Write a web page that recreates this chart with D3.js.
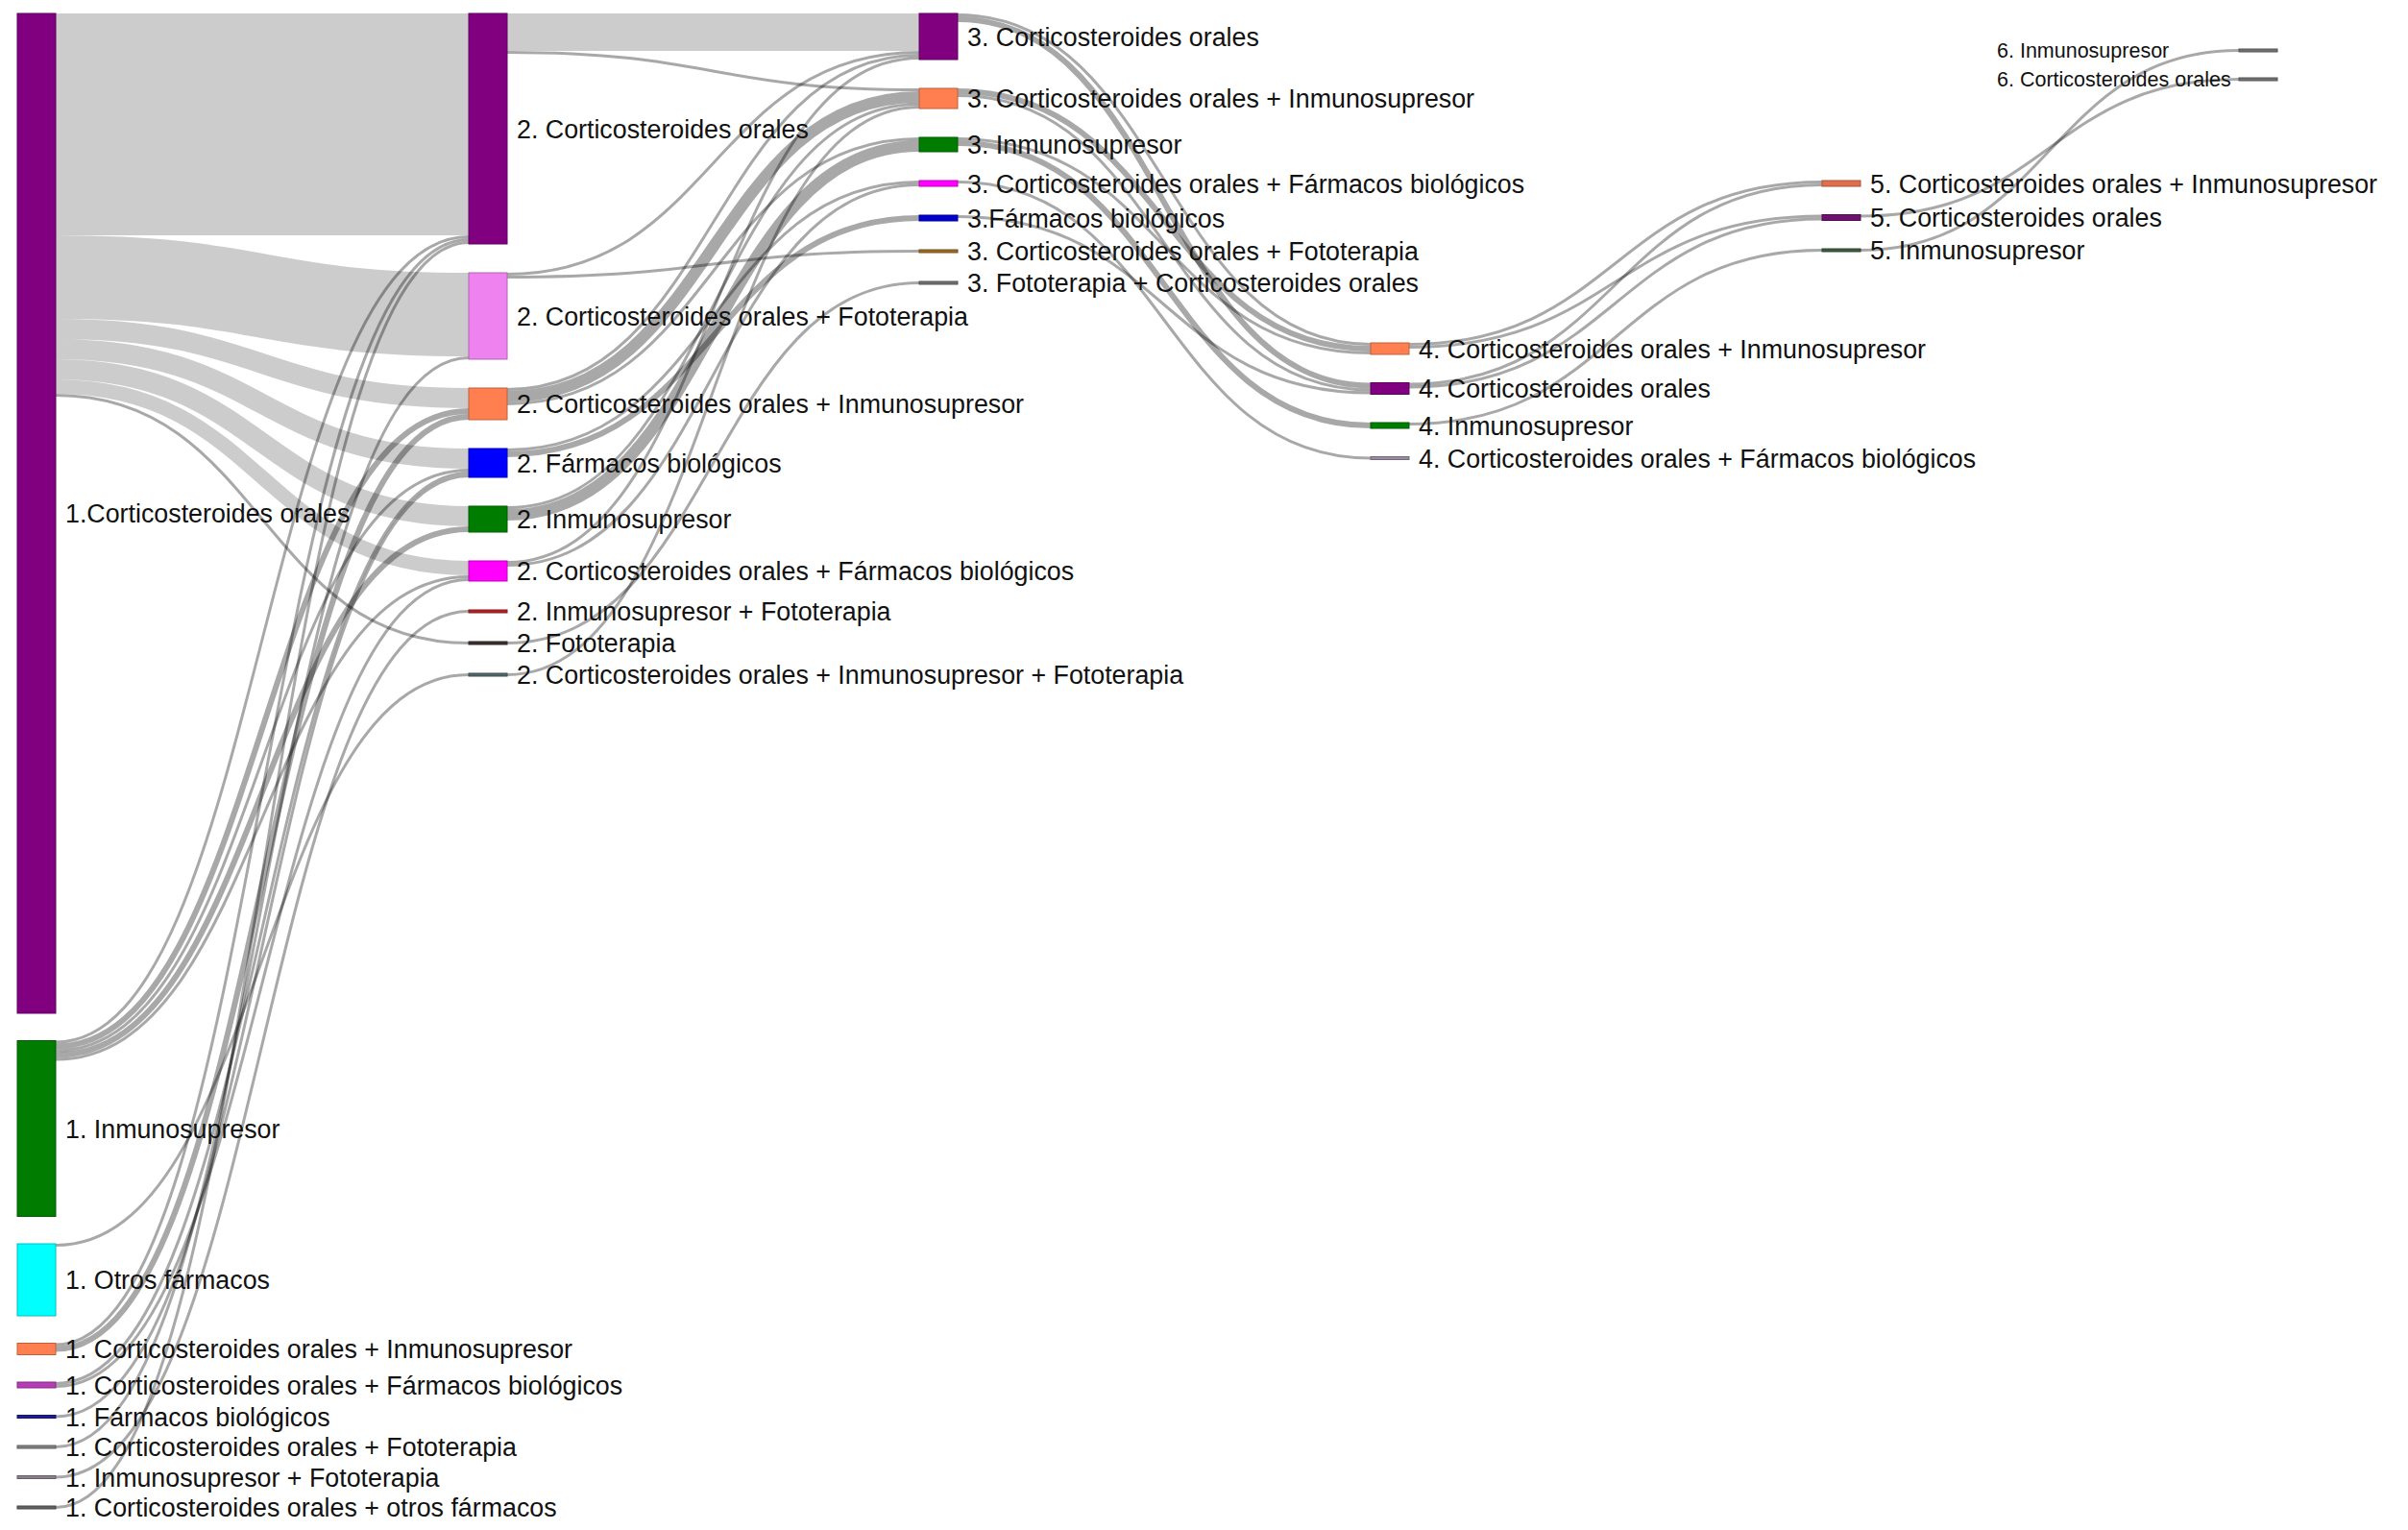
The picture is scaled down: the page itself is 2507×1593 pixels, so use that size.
<!DOCTYPE html>
<html>
<head>
<meta charset="utf-8">
<script src="https://cdn.jsdelivr.net/npm/d3@7"></script>
<style>
body { margin: 0; background: #fff; }
text { font-family: "Liberation Sans", Arial, Helvetica, sans-serif; fill: #111; }
</style>
</head>
<body>
<script>
var width = 2507, height = 1593;

// treatment lines, one set of arrays per step
var step1Labels = ["1.Corticosteroides orales", "1. Inmunosupresor", "1. Otros fármacos",
    "1. Corticosteroides orales + Inmunosupresor", "1. Corticosteroides orales + Fármacos biológicos",
    "1. Fármacos biológicos", "1. Corticosteroides orales + Fototerapia",
    "1. Inmunosupresor + Fototerapia", "1. Corticosteroides orales + otros fármacos"];
var step1Values = [347, 61, 25, 4, 2, 1, 1, 1, 1];
var step1Colors = ["#800080", "#007d00", "#00ffff", "#ff7f50", "#b43cb4", "#1c1c96", "#808080", "#8a808a", "#606060"];

var step2Labels = ["2. Corticosteroides orales", "2. Corticosteroides orales + Fototerapia",
    "2. Corticosteroides orales + Inmunosupresor", "2. Fármacos biológicos", "2. Inmunosupresor",
    "2. Corticosteroides orales + Fármacos biológicos", "2. Inmunosupresor + Fototerapia",
    "2. Fototerapia", "2. Corticosteroides orales + Inmunosupresor + Fototerapia"];
var step2Values = [80, 30, 11, 10, 9, 7, 1, 1, 1];
var step2Colors = ["#800080", "#ee82ee", "#ff7f50", "#0000ff", "#007d00", "#ff00ff", "#b22222", "#3a3030", "#506868"];

var step3Labels = ["3. Corticosteroides orales", "3. Corticosteroides orales + Inmunosupresor",
    "3. Inmunosupresor", "3. Corticosteroides orales + Fármacos biológicos", "3.Fármacos biológicos",
    "3. Corticosteroides orales + Fototerapia", "3. Fototerapia + Corticosteroides orales"];
var step3Values = [16, 7, 5, 2, 2, 1, 1];
var step3Colors = ["#800080", "#ff7f50", "#007d00", "#ff00ff", "#0000cd", "#9c6b25", "#707070"];

var step4Labels = ["4. Corticosteroides orales + Inmunosupresor", "4. Corticosteroides orales",
    "4. Inmunosupresor", "4. Corticosteroides orales + Fármacos biológicos"];
var step4Values = [4, 4, 2, 1];
var step4Colors = ["#ff7f50", "#800080", "#007d00", "#9a8aa2"];

var step5Labels = ["5. Corticosteroides orales + Inmunosupresor", "5. Corticosteroides orales", "5. Inmunosupresor"];
var step5Values = [2, 2, 1];
var step5Colors = ["#e0704c", "#6e106e", "#3c5a3c"];

var step6Labels = ["6. Inmunosupresor", "6. Corticosteroides orales"];
var step6Values = [1, 1];
var step6Colors = ["#707070", "#707070"];

// flows between steps: [from, to, patients]
var flows12 = [
    ["1.Corticosteroides orales", "2. Corticosteroides orales", 77],
    ["1.Corticosteroides orales", "2. Corticosteroides orales + Fototerapia", 29],
    ["1.Corticosteroides orales", "2. Corticosteroides orales + Inmunosupresor", 7],
    ["1.Corticosteroides orales", "2. Fármacos biológicos", 7],
    ["1.Corticosteroides orales", "2. Inmunosupresor", 7],
    ["1.Corticosteroides orales", "2. Corticosteroides orales + Fármacos biológicos", 5],
    ["1.Corticosteroides orales", "2. Fototerapia", 1],
    ["1. Inmunosupresor", "2. Corticosteroides orales", 1],
    ["1. Inmunosupresor", "2. Corticosteroides orales + Inmunosupresor", 2],
    ["1. Inmunosupresor", "2. Fármacos biológicos", 1],
    ["1. Inmunosupresor", "2. Inmunosupresor", 2],
    ["1. Inmunosupresor", "2. Corticosteroides orales + Fármacos biológicos", 1],
    ["1. Otros fármacos", "2. Corticosteroides orales + Inmunosupresor + Fototerapia", 1],
    ["1. Corticosteroides orales + Inmunosupresor", "2. Corticosteroides orales", 1],
    ["1. Corticosteroides orales + Inmunosupresor", "2. Corticosteroides orales + Inmunosupresor", 2],
    ["1. Corticosteroides orales + Fármacos biológicos", "2. Fármacos biológicos", 1],
    ["1. Corticosteroides orales + Fármacos biológicos", "2. Corticosteroides orales + Fármacos biológicos", 1],
    ["1. Fármacos biológicos", "2. Fármacos biológicos", 1],
    ["1. Corticosteroides orales + Fototerapia", "2. Corticosteroides orales + Fototerapia", 1],
    ["1. Inmunosupresor + Fototerapia", "2. Inmunosupresor + Fototerapia", 1],
    ["1. Corticosteroides orales + otros fármacos", "2. Corticosteroides orales", 1]
];
var flows23 = [
    ["2. Corticosteroides orales", "3. Corticosteroides orales", 13],
    ["2. Corticosteroides orales", "3. Corticosteroides orales + Inmunosupresor", 1],
    ["2. Corticosteroides orales + Fototerapia", "3. Corticosteroides orales", 1],
    ["2. Corticosteroides orales + Fototerapia", "3. Corticosteroides orales + Fototerapia", 1],
    ["2. Corticosteroides orales + Inmunosupresor", "3. Corticosteroides orales", 1],
    ["2. Corticosteroides orales + Inmunosupresor", "3. Corticosteroides orales + Inmunosupresor", 4],
    ["2. Corticosteroides orales + Inmunosupresor", "3. Inmunosupresor", 1],
    ["2. Fármacos biológicos", "3. Corticosteroides orales + Fármacos biológicos", 1],
    ["2. Fármacos biológicos", "3.Fármacos biológicos", 2],
    ["2. Inmunosupresor", "3. Corticosteroides orales + Inmunosupresor", 1],
    ["2. Inmunosupresor", "3. Inmunosupresor", 4],
    ["2. Corticosteroides orales + Fármacos biológicos", "3. Corticosteroides orales", 1],
    ["2. Corticosteroides orales + Fármacos biológicos", "3. Corticosteroides orales + Fármacos biológicos", 1],
    ["2. Fototerapia", "3. Fototerapia + Corticosteroides orales", 1],
    ["2. Corticosteroides orales + Inmunosupresor + Fototerapia", "3. Corticosteroides orales + Inmunosupresor", 1]
];
var flows34 = [
    ["3. Corticosteroides orales", "4. Corticosteroides orales + Inmunosupresor", 1],
    ["3. Corticosteroides orales", "4. Corticosteroides orales", 2],
    ["3. Corticosteroides orales + Inmunosupresor", "4. Corticosteroides orales + Inmunosupresor", 2],
    ["3. Corticosteroides orales + Inmunosupresor", "4. Corticosteroides orales", 1],
    ["3. Inmunosupresor", "4. Corticosteroides orales + Inmunosupresor", 1],
    ["3. Inmunosupresor", "4. Inmunosupresor", 2],
    ["3. Corticosteroides orales + Fármacos biológicos", "4. Corticosteroides orales + Fármacos biológicos", 1],
    ["3.Fármacos biológicos", "4. Corticosteroides orales", 1]
];
var flows45 = [
    ["4. Corticosteroides orales + Inmunosupresor", "5. Corticosteroides orales + Inmunosupresor", 1],
    ["4. Corticosteroides orales + Inmunosupresor", "5. Corticosteroides orales", 1],
    ["4. Corticosteroides orales", "5. Corticosteroides orales + Inmunosupresor", 1],
    ["4. Corticosteroides orales", "5. Corticosteroides orales", 1],
    ["4. Inmunosupresor", "5. Inmunosupresor", 1]
];
var flows56 = [
    ["5. Corticosteroides orales", "6. Corticosteroides orales", 1],
    ["5. Inmunosupresor", "6. Inmunosupresor", 1]
];

// layout
var nodeWidth = 40;
var size = d3.scaleLinear().domain([0, 1]).range([0, 3]);          // patients -> px
var colX = d3.scaleOrdinal().domain(d3.range(6)).range([18, 488, 957, 1427, 1897, 2331]);
var colTop = d3.scaleOrdinal().domain(d3.range(6)).range([14, 14, 14, 357, 188, 51]);
var colPad = d3.scaleOrdinal().domain(d3.range(6)).range([28.5, 30, 30, 29.5, 29.5, 27]);

var steps = [
    [step1Labels, step1Values, step1Colors],
    [step2Labels, step2Values, step2Colors],
    [step3Labels, step3Values, step3Colors],
    [step4Labels, step4Values, step4Colors],
    [step5Labels, step5Values, step5Colors],
    [step6Labels, step6Values, step6Colors]
];

var nodes = [], byName = {};
steps.forEach(function (s, col) {
    var y = colTop(col);
    s[0].forEach(function (name, i) {
        var n = {name: name, col: col, value: s[1][i], color: s[2][i],
            x0: colX(col), x1: colX(col) + nodeWidth, y0: y, y1: y + size(s[1][i]),
            out: [], inc: []};
        y = n.y1 + colPad(col);
        nodes.push(n);
        byName[name] = n;
    });
});

var links = [];
[flows12, flows23, flows34, flows45, flows56].forEach(function (fl) {
    fl.forEach(function (f) {
        var l = {source: byName[f[0]], target: byName[f[1]], value: f[2]};
        l.width = size(l.value);
        l.source.out.push(l);
        l.target.inc.push(l);
        links.push(l);
    });
});

// stack link ends on each node, ordered by the other end
nodes.forEach(function (n) {
    var y = n.y0;
    n.out.sort(function (a, b) { return a.target.y0 - b.target.y0; })
        .forEach(function (l) { l.sy = y + l.width / 2; y += l.width; });
    y = n.y0;
    n.inc.sort(function (a, b) { return a.source.y0 - b.source.y0; })
        .forEach(function (l) { l.ty = y + l.width / 2; y += l.width; });
});

var svg = d3.select("body").append("svg")
    .attr("width", width)
    .attr("height", height);

var linkPath = d3.linkHorizontal()
    .source(function (d) { return [d.source.x1, d.sy]; })
    .target(function (d) { return [d.target.x0, d.ty]; });

svg.append("g")
    .attr("fill", "none")
    .selectAll("path")
    .data(links.slice().sort(function (a, b) { return b.value - a.value; }))
    .enter().append("path")
    .attr("d", linkPath)
    .attr("stroke", "#000")
    .attr("stroke-opacity", function (d) { return d.value >= 5 ? 0.2 : 0.34; })
    .attr("stroke-width", function (d) { return Math.max(1.5, d.width); });

svg.append("g")
    .selectAll("rect")
    .data(nodes)
    .enter().append("rect")
    .attr("x", function (d) { return d.x0; })
    .attr("y", function (d) { return d.y0; })
    .attr("width", nodeWidth)
    .attr("height", function (d) { return d.y1 - d.y0; })
    .attr("fill", function (d) { return d.color; })
    .attr("stroke", function (d) { return d3.rgb(d.color).darker(0.8); })
    .attr("stroke-width", 1);

// last step is labelled on the left of its bars
svg.append("g")
    .selectAll("text")
    .data(nodes)
    .enter().append("text")
    .attr("x", function (d) { return d.col === 5 ? d.x0 - 252 : d.x1 + 10; })
    .attr("y", function (d) { return (d.y0 + d.y1) / 2; })
    .attr("dy", "0.36em")
    .style("font-size", function (d) { return d.col === 5 ? "21.5px" : "26.8px"; })
    .text(function (d) { return d.name; });
</script>
</body>
</html>
